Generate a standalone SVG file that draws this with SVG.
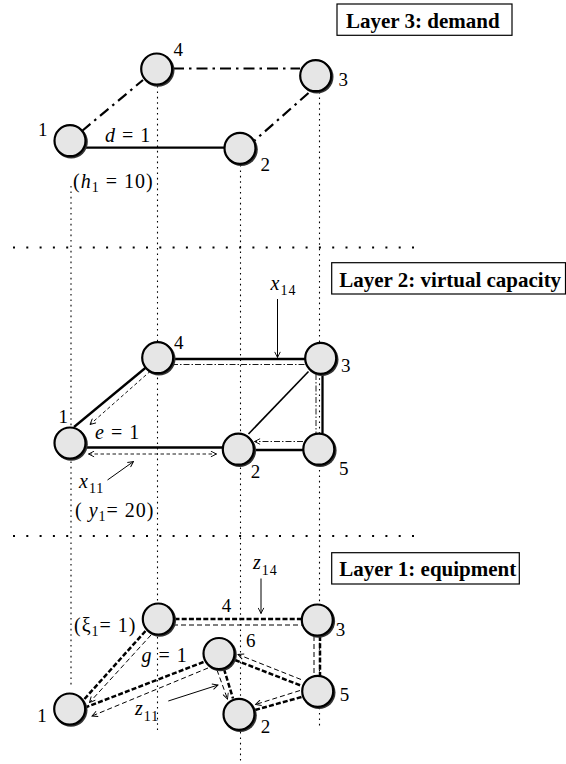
<svg xmlns="http://www.w3.org/2000/svg" width="566" height="764" viewBox="0 0 566 764">
<style>
text{font-family:"Liberation Serif","Times New Roman",serif;fill:#000}
.nl{font-size:19px}
.m{font-size:20px;letter-spacing:1px}
.i{font-style:italic}
.sb{font-size:14px}
.bt{font-size:21px;font-weight:bold}
.box{fill:#fff;stroke:#000;stroke-width:1.2}
.gv{stroke:#000;stroke-width:1.1;stroke-dasharray:1.6 3.8;fill:none}
.gh{stroke:#000;stroke-width:2;stroke-dasharray:2 11.3;fill:none}
.dd3{stroke:#000;stroke-width:2.2;stroke-dasharray:11 5 2.5 5;fill:none}
.sol{stroke:#000;stroke-width:2.3;fill:none}
.med{stroke:#000;stroke-width:1.6;fill:none}
.ptr{stroke:#000;stroke-width:1;fill:none}
.ddt{stroke:#000;stroke-width:0.9;stroke-dasharray:6 2 1.5 2;fill:none}
.dst{stroke:#000;stroke-width:0.9;stroke-dasharray:3.5 2.5;fill:none}
.tkd{stroke:#000;stroke-width:2.5;stroke-dasharray:5 2.2;fill:none}
.tnd{stroke:#000;stroke-width:1;stroke-dasharray:5 3;fill:none}
.nd{fill:#e6e6e6;stroke:#000;stroke-width:2.2}
.sh{fill:#333}
</style>
<defs>
<marker id="ah" viewBox="0 0 10 10" refX="9" refY="5" markerWidth="7" markerHeight="7" markerUnits="userSpaceOnUse" orient="auto-start-reverse">
<path d="M1,1 L9,5 L1,9" fill="none" stroke="#000" stroke-width="1.3"/>
</marker>
<g id="node"><circle class="sh" cx="1.2" cy="1.2" r="16.6"/><circle class="nd" cx="0" cy="0" r="15.5"/></g>
</defs>

<g id="guides">
<line class="gv" x1="71" y1="186" x2="71" y2="686"/>
<line class="gv" x1="157.5" y1="86" x2="157.5" y2="730"/>
<line class="gv" x1="240.5" y1="165" x2="240.5" y2="764"/>
<line class="gv" x1="319.5" y1="92" x2="319.5" y2="727"/>
<line class="gh" x1="13" y1="247.5" x2="415" y2="247.5"/>
<line class="gh" x1="13" y1="536" x2="415" y2="536"/>
</g>

<g id="layer-boxes">
<g id="box-layer3"><rect class="box" x="337" y="4" width="175" height="31.3"/><text class="bt" x="346" y="28">Layer 3: demand</text></g>
<g id="box-layer2"><rect class="box" x="331.7" y="262.7" width="233.8" height="31.3"/><text class="bt" x="339.3" y="286.7">Layer 2: virtual capacity</text></g>
<g id="box-layer1"><rect class="box" x="331.7" y="552.7" width="187.6" height="31.3"/><text class="bt" x="339.3" y="576">Layer 1: equipment</text></g>
</g>

<g id="connectors">
<!-- Layer 3 -->
<line class="sol" x1="86" y1="147.7" x2="224" y2="147.7"/>
<line class="dd3" x1="82" y1="131" x2="143" y2="80"/>
<line class="dd3" x1="173" y1="68.5" x2="300" y2="68.5"/>
<line class="dd3" x1="308.5" y1="93" x2="254" y2="141"/>
<!-- Layer 2 -->
<line class="sol" x1="173.5" y1="359" x2="305" y2="359"/>
<line class="ddt" x1="172" y1="364.5" x2="306" y2="364.5"/>
<line class="ptr" x1="277.5" y1="299" x2="277.5" y2="357.5" marker-end="url(#ah)"/>
<line class="sol" x1="146.5" y1="367" x2="74" y2="427"/>
<line class="dst" x1="150.5" y1="371" x2="90" y2="424.5" marker-end="url(#ah)"/>
<line class="med" x1="308.5" y1="371.5" x2="248.5" y2="434"/>
<line class="sol" x1="322.5" y1="374" x2="322.5" y2="433.5"/>
<line class="ddt" x1="316" y1="374" x2="316" y2="433.5"/>
<line class="sol" x1="254" y1="450" x2="303" y2="450"/>
<line class="ddt" x1="303" y1="441.5" x2="254.5" y2="441.5" marker-end="url(#ah)"/>
<line class="sol" x1="86" y1="447.5" x2="222.5" y2="447.5"/>
<line class="dst" x1="88.5" y1="454" x2="216.5" y2="454" marker-start="url(#ah)" marker-end="url(#ah)"/>
<line class="ptr" x1="107.5" y1="480" x2="133.5" y2="461.5" marker-end="url(#ah)"/>
<!-- Layer 1 -->
<line class="tkd" x1="174.5" y1="619" x2="301" y2="619"/>
<line class="tnd" x1="173" y1="625" x2="302" y2="625"/>
<line class="ptr" x1="261" y1="578.5" x2="261" y2="613.5" marker-end="url(#ah)"/>
<line class="tkd" x1="145.5" y1="631" x2="84" y2="699.5"/>
<line class="tnd" x1="151" y1="635" x2="89.5" y2="702.5" marker-end="url(#ah)"/>
<line class="tkd" x1="203.5" y1="662" x2="86.5" y2="707"/>
<line class="tnd" x1="208" y1="668" x2="92" y2="716" marker-end="url(#ah)"/>
<line class="ptr" x1="168.3" y1="701" x2="218" y2="685" marker-end="url(#ah)"/>
<line class="tkd" x1="224" y1="669" x2="233" y2="698.5"/>
<line class="tnd" x1="217" y1="670" x2="227.5" y2="699" marker-end="url(#ah)"/>
<line class="tkd" x1="235" y1="660" x2="302" y2="686"/>
<line class="tnd" x1="301" y1="679.5" x2="238" y2="654.5" marker-end="url(#ah)"/>
<line class="tkd" x1="301.5" y1="697" x2="255" y2="710"/>
<line class="tnd" x1="300" y1="690.5" x2="255.5" y2="704.5" marker-end="url(#ah)"/>
<line class="tkd" x1="320" y1="636" x2="320" y2="675.5"/>
<line class="tnd" x1="314" y1="636" x2="314" y2="676"/>
</g>

<g id="edge-labels">
<text class="m" x="105" y="141.5"><tspan class="i">d</tspan> = 1</text>
<text class="m" x="73" y="188.3">(<tspan class="i">h</tspan><tspan class="sb" dy="4">1</tspan><tspan dy="-4"> = 10)</tspan></text>
<text class="m" x="95" y="439.3"><tspan class="i">e</tspan> = 1</text>
<text class="m" x="79" y="488.3"><tspan class="i">x</tspan><tspan class="sb" dy="5">11</tspan></text>
<text class="m" x="75" y="516.7">( <tspan class="i">y</tspan><tspan class="sb" dy="4">1</tspan><tspan dy="-4">= 20)</tspan></text>
<text class="m" x="270.5" y="290"><tspan class="i">x</tspan><tspan class="sb" dy="5">14</tspan></text>
<text class="m" x="253" y="568.5"><tspan class="i">z</tspan><tspan class="sb" dy="6">14</tspan></text>
<text class="m" x="74" y="631.7">(ξ<tspan class="sb" dy="4">1</tspan><tspan dy="-4">= 1)</tspan></text>
<text class="m" x="141.5" y="661.7"><tspan class="i">g</tspan> = 1</text>
<text class="m" x="135" y="715"><tspan class="i">z</tspan><tspan class="sb" dy="6">11</tspan></text>
</g>

<g id="L3-n1"><use href="#node" x="70" y="140.7"/><text class="nl" x="38" y="136">1</text></g>
<g id="L3-n4"><use href="#node" x="156.7" y="69"/><text class="nl" x="173.5" y="56">4</text></g>
<g id="L3-n3"><use href="#node" x="315.7" y="75.7"/><text class="nl" x="338.5" y="86">3</text></g>
<g id="L3-n2"><use href="#node" x="240" y="148.3"/><text class="nl" x="260.5" y="171">2</text></g>

<g id="L2-n4"><use href="#node" x="157.7" y="357.7"/><text class="nl" x="174" y="349">4</text></g>
<g id="L2-n3"><use href="#node" x="320.7" y="358.3"/><text class="nl" x="341" y="371.5">3</text></g>
<g id="L2-n1"><use href="#node" x="70" y="443"/><text class="nl" x="58.5" y="423">1</text></g>
<g id="L2-n2"><use href="#node" x="238.3" y="449.2"/><text class="nl" x="250.7" y="478">2</text></g>
<g id="L2-n5"><use href="#node" x="318.8" y="449.2"/><text class="nl" x="339" y="474.5">5</text></g>

<g id="L1-n4"><use href="#node" x="158.3" y="619"/><text class="nl" x="221.7" y="612">4</text></g>
<g id="L1-n3"><use href="#node" x="317.3" y="620"/><text class="nl" x="335.7" y="635.5">3</text></g>
<g id="L1-n6"><use href="#node" x="219" y="653.5"/><text class="nl" x="246" y="647">6</text></g>
<g id="L1-n5"><use href="#node" x="317.7" y="691.3"/><text class="nl" x="339.7" y="700.5">5</text></g>
<g id="L1-n2"><use href="#node" x="239" y="714.3"/><text class="nl" x="260.7" y="733">2</text></g>
<g id="L1-n1"><use href="#node" x="69.7" y="709"/><text class="nl" x="37.3" y="722">1</text></g>
</svg>
